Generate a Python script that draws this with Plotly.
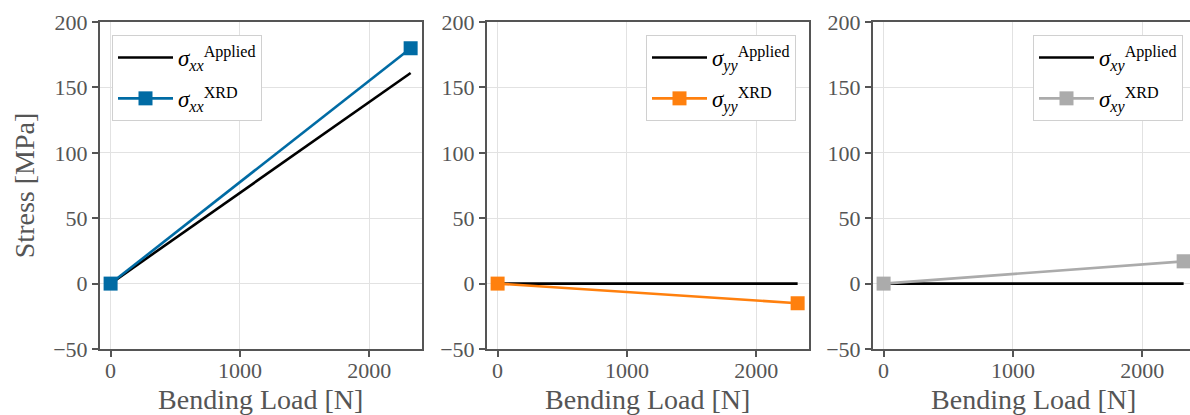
import plotly.graph_objects as go

# ---- data ----
load = [0, 2320]                 # Bending load [N]
sxx_applied = [0, 161]
sxx_xrd = [0, 180]
syy_applied = [0, 0]
syy_xrd = [0, -15]
sxy_applied = [0, 0]
sxy_xrd = [0, 17]
x_ticks = [0, 1000, 2000]
y_ticks = [-50, 0, 50, 100, 150, 200]
components = ["xx", "yy", "xy"]
xrd_colors = ["#006BA4", "#FF800E", "#ABABAB"]

applied = [sxx_applied, syy_applied, sxy_applied]
xrd = [sxx_xrd, syy_xrd, sxy_xrd]

W, H = 1200, 415
FONT = "Liberation Serif"
GRAY = "#555555"

x_domains = [(100, 421.5), (487, 808.5), (873, 1194.5)]
y_dom = [1 - 349 / H, 1 - 22 / H]
legend_pos = [(112, "left"), (796, "right"), (1183, "right")]

fig = go.Figure()
layout = dict(
    width=W, height=H,
    margin=dict(l=0, r=0, t=0, b=0),
    paper_bgcolor="white", plot_bgcolor="white",
    font=dict(family=FONT, color=GRAY),
)

for i, comp in enumerate(components):
    n = "" if i == 0 else str(i + 1)
    lg = "legend" + n
    fig.add_trace(go.Scatter(
        x=load, y=applied[i], mode="lines",
        line=dict(color="black", width=2.6),
        name=f"<i>σ</i><sub><i>{comp}</i></sub><sup>Applied</sup>",
        xaxis="x" + n, yaxis="y" + n, legend=lg, legendgroup=f"a{i}",
    ))
    fig.add_trace(go.Scatter(
        x=load, y=xrd[i], mode="lines+markers",
        line=dict(color=xrd_colors[i], width=2.6),
        marker=dict(symbol="square", size=14, color=xrd_colors[i]),
        name=f"<i>σ</i><sub><i>{comp}</i></sub><sup>XRD</sup>",
        xaxis="x" + n, yaxis="y" + n, legend=lg, legendgroup=f"b{i}",
    ))
    x0, x1 = x_domains[i]
    axis_common = dict(
        showline=True, linecolor=GRAY, linewidth=2, mirror=True,
        ticks="outside", ticklen=6, tickwidth=1.5, tickcolor=GRAY,
        showgrid=True, gridcolor="#E2E2E2", gridwidth=1,
        zeroline=False, automargin=False,
        tickfont=dict(family=FONT, size=22, color=GRAY),
    )
    layout["xaxis" + n] = dict(
        axis_common,
        domain=[x0 / W, x1 / W], anchor="y" + n,
        range=[-82, 2404], tickvals=x_ticks,
        ticklabelstandoff=-5,
        title=dict(text="Bending Load [N]", standoff=14,
                   font=dict(family=FONT, size=28, color=GRAY)),
    )
    ya = dict(
        axis_common,
        domain=y_dom, anchor="x" + n,
        range=[-50, 200], tickvals=y_ticks,
    )
    if i == 0:
        ya["title"] = dict(text="Stress [MPa]", standoff=10,
                           font=dict(family=FONT, size=28, color=GRAY))
    layout["yaxis" + n] = ya
    lx, anchor = legend_pos[i]
    layout[lg] = dict(
        x=lx / W, xanchor=anchor, y=1 - 35 / H, yanchor="top",
        bgcolor="white", bordercolor="#D0D0D0", borderwidth=1,
        font=dict(family=FONT, size=23, color="black"),
        tracegroupgap=8, itemwidth=55,
    )

fig.update_layout(**layout)

fig.write_html(
    "out.html",
    config={"displayModeBar": False},
    post_script=(
        "document.body.style.margin='0';"
        "document.body.style.overflow='hidden';"
        "document.documentElement.style.overflow='hidden';"
    ),
)
